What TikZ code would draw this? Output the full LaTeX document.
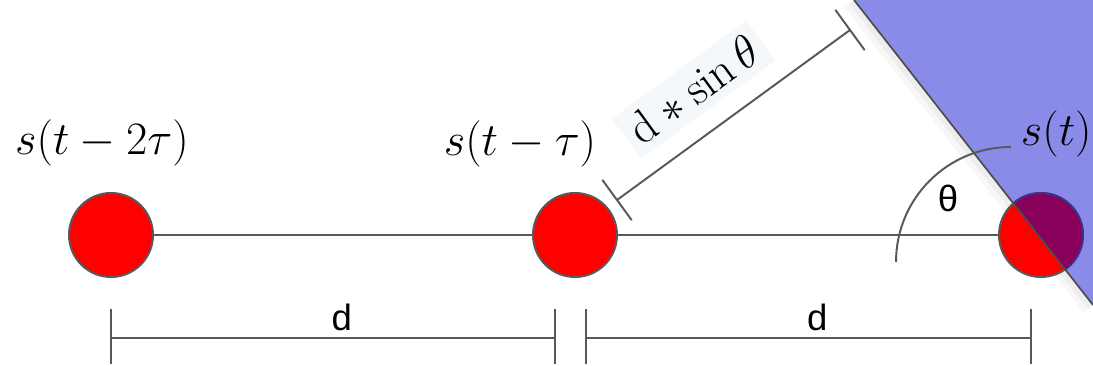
\RequirePackage{fix-cm}
\documentclass[tikz,border=0pt]{standalone}
\usepackage{fontspec}
\newfontfamily\labelfont{Liberation Sans}
\usetikzlibrary{calc}
\definecolor{wedgeblue}{RGB}{138,139,233}
\definecolor{overlap}{RGB}{136,0,90}
\definecolor{overlapedge}{RGB}{60,50,140}
\definecolor{linegray}{RGB}{89,89,89}
\definecolor{boxbg}{RGB}{245,248,251}
\tikzset{
  sensor/.style={draw=linegray, fill=red, circle, minimum size=2.1cm, inner sep=0pt},
  sig/.style={font=\fontsize{33}{40}\selectfont},
  dimlbl/.style={font=\labelfont\fontsize{26}{30}\selectfont},
}
\begin{document}
\begin{tikzpicture}[x=0.025cm, y=-0.025cm, line width=1.4pt, color=linegray, text=black]
        \useasboundingbox (0,0) rectangle (1093,366);
        \coordinate (wtop) at (854,0);
        \coordinate (wbot) at (1093,305);
        \coordinate (wcorner) at (1093,0);
        %% incoming wavefront
        \fill[wedgeblue] (wtop) -- (wbot) -- (wcorner) -- cycle;
        \draw[line width=8pt, black, opacity=0.03] ($(wtop)+(-5,4)$) -- ($(wbot)+(-5,4)$);
        \draw[line width=4pt, black, opacity=0.04] ($(wtop)+(-3,2)$) -- ($(wbot)+(-3,2)$);
        %% sensors
        \node[sensor] (s2) at (111,235) {};
        \node[sensor] (s1) at (575,235) {};
        \node[sensor] (s0) at (1041,235) {};
        \draw (s2) -- (s1);
        \draw (s1) -- (s0);
        \begin{scope}
            \clip (wtop) -- (wbot) -- (wcorner) -- cycle;
            \filldraw[fill=overlap, draw=overlapedge] (s0.center) circle[radius=1.05cm];
        \end{scope}
        \draw[line width=1.2pt, black!70] (wtop) -- (wbot);
        %% angle
        \draw (896,262) arc[start angle=180, end angle=90, radius=2.875cm];
        \node[dimlbl, anchor=base] (th) at (948,212) {θ};
        %% path difference
        \coordinate (ha) at (617,200);
        \coordinate (hb) at (850,30);
        \draw (ha) -- node[sig, sloped, pos=0.44, above=13pt, fill=boxbg, inner sep=6pt]
            {$\mathrm{d}*\sin\theta$} (hb);
        \draw (ha) ++(-14.7,-20.2) -- ++(29.4,40.4);
        \draw (hb) ++(-14.7,-20.2) -- ++(29.4,40.4);
        %% signal labels
        \node[sig, anchor=base] (l2) at (102,155) {$s(t-2\tau)$};
        \node[sig, anchor=base] (l1) at (520,156) {$s(t-\tau)$};
        \node[sig, anchor=base west, inner sep=0pt] (l0) at (1020,146) {$s(t)$};
        %% spacing
        \coordinate (la) at (111,338);
        \coordinate (lb) at (555,338);
        \coordinate (ra) at (586,338);
        \coordinate (rb) at (1031,338);
        \draw (la) -- node[dimlbl, pos=0.52, above, inner sep=4.25pt] {d} (lb);
        \draw (ra) -- node[dimlbl, pos=0.52, above, inner sep=4.25pt] {d} (rb);
        \foreach \c in {la,lb,ra,rb}
            \draw (\c) ++(0,-29) -- ++(0,55);
    \end{tikzpicture}
\end{document}
